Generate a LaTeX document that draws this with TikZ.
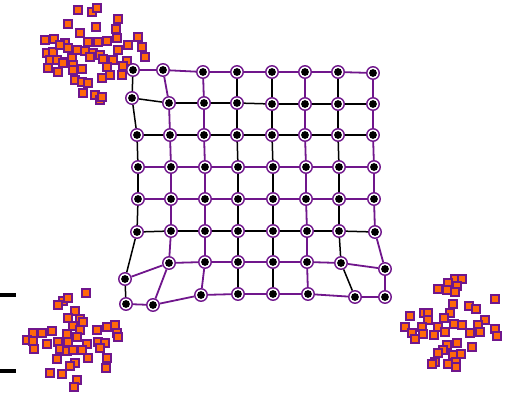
\documentclass[tikz,border=0pt]{standalone}
\usepackage{tikz}
\definecolor{sompurple}{RGB}{112,22,140}
\definecolor{somorange}{RGB}{255,104,10}

\begin{document}
\begin{tikzpicture}[
    x=1pt, y=-1pt,
    unit/.style   = {circle, draw=sompurple, line width=1.4pt, fill=white, minimum size=12.5pt, inner sep=0pt,
                     path picture={\fill[black] (path picture bounding box.center) circle (3.9pt);}},
    datum/.style  = {rectangle, draw=sompurple, fill=somorange, line width=1.6pt, minimum size=8.5pt, inner sep=0pt},
    pedge/.style  = {draw=sompurple, line width=1.8pt},
    bedge/.style  = {draw=black, line width=1.5pt}
    ]
      \useasboundingbox (0,0) rectangle (512,397);

      % data clusters --------------------------------------------
      \foreach \x/\y [count=\i] in {78/10,92/12,97/8,68/24,96/27,118/19,116/29,54/39,65/43,88/42,98/42,107/41,117/38,138/37,
            47/53,53/52,68/48,77/50,85/51,93/53,100/55,118/50,142/47,145/57,50/60,57/60,65/62,72/58,90/57,103/59,113/60,
            127/61,48/68,63/63,73/65,107/67,123/66,73/70,82/69,122/75,102/78,75/80,82/82,88/83,83/93,95/95,100/100,102/97,
            45/40,60/45,80/33,128/45,110/75,58/72}
        \node[datum] (a\i) at (\x,\y) {};
      \foreach \x/\y [count=\i] in {86/293,63/301,68/298,58/305,75/311,68/318,80/319,83/322,73/326,33/333,42/333,52/331,
            67/334,80/330,97/330,107/327,115/325,117/333,118/337,27/340,33/341,58/342,68/342,77/337,87/344,98/342,105/343,
            47/344,34/349,60/349,67/351,73/350,82/350,100/348,57/359,88/358,107/358,75/363,70/366,106/368,50/373,62/374,
            77/380,74/387}
        \node[datum] (b\i) at (\x,\y) {};
      \foreach \x/\y [count=\i] in {455/279,462/279,448/283,457/286,438/289,447/290,455/292,495/299,453/304,469/306,
            476/309,424/313,428/313,450/313,410/316,428/320,444/318,485/320,405/327,422/327,438/327,454/324,462/325,
            478/325,495/329,412/333,423/334,434/335,445/332,470/333,480/332,497/336,415/339,457/343,447/345,472/347,
            443/350,438/353,461/354,453/355,435/362,432/364,448/364,456/362,456/367}
        \node[datum] (c\i) at (\x,\y) {};

      % map units ------------------------------------------------
      \foreach \row [count=\r from 0] in {
            {133/70,163/70,203/72,237/72,272/72,305/72,338/72,373/73},
            {132/98,169/103,204/103,237/103,272/104,305/104,338/104,373/104},
            {137/135,170/135,204/135,237/135,272/135,305/135,338/135,373/135},
            {138/167,171/167,205/167,238/167,273/167,306/167,339/167,374/167},
            {138/199,171/199,205/199,238/199,273/199,306/199,339/199,374/199},
            {137/232,171/231,205/231,238/231,273/231,307/231,339/231,375/232},
            {125/279,169/263,205/262,238/262,273/262,307/262,341/263,385/269},
            {126/304,153/305,201/295,238/294,273/294,308/294,355/297,385/297}}
        \foreach \x/\y [count=\c from 0] in \row
          \node[unit] (n-\r-\c) at (\x,\y) {};

      % edges ----------------------------------------------------
      \foreach \r/\s in {0/pedge,1/bedge,2/bedge,3/pedge,4/pedge,5/bedge,6/pedge,7/pedge}
        \foreach \c/\d in {0/1,1/2,2/3,3/4,4/5,5/6,6/7}
          \path[\s] (n-\r-\c) -- (n-\r-\d);
      \foreach \c/\s in {0/bedge,1/pedge,2/pedge,3/bedge,4/bedge,5/pedge,6/bedge,7/pedge}
        \foreach \r/\q in {0/1,1/2,2/3,3/4,4/5,5/6,6/7}
          \path[\s] (n-\r-\c) -- (n-\q-\c);

      % marks on the left edge -----------------------------------
      \draw[line width=3.5pt] (0,295) -- (16,295)
                              (0,371) -- (16,371);
\end{tikzpicture}
\end{document}
